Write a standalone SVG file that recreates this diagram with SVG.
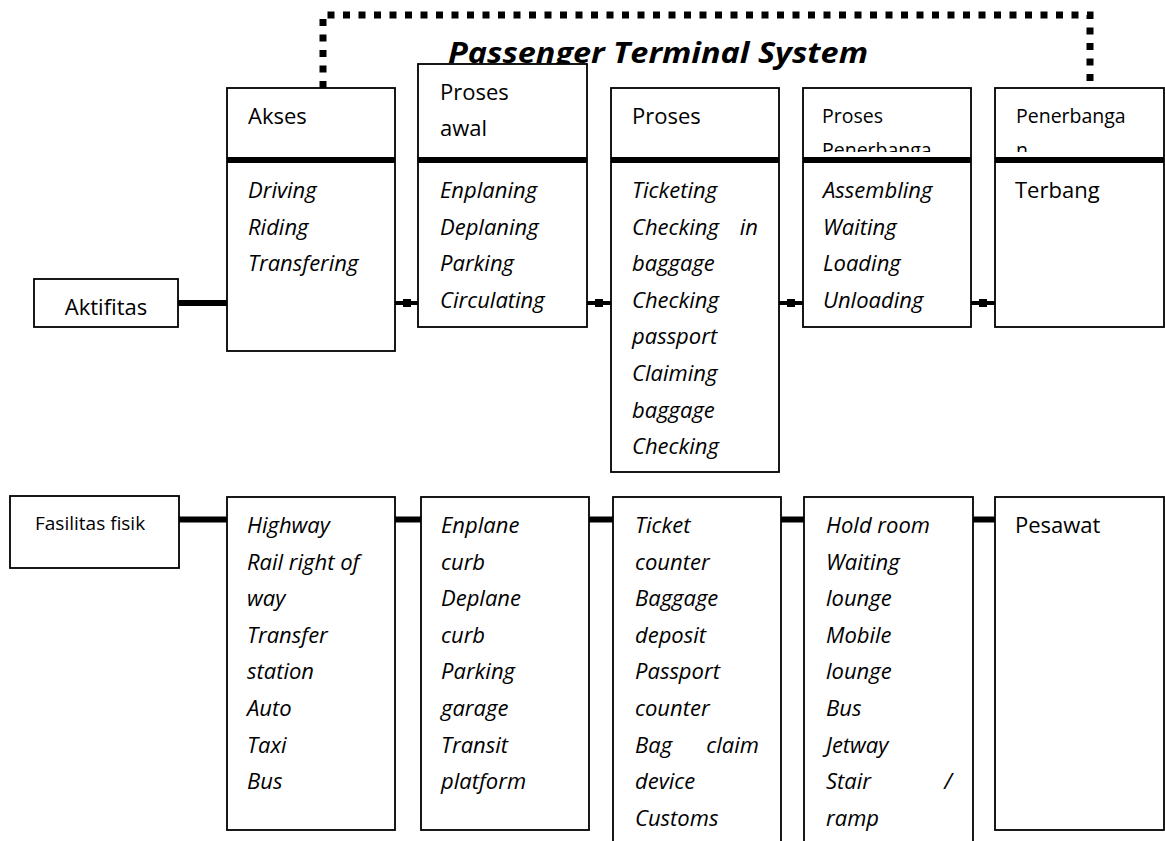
<svg xmlns="http://www.w3.org/2000/svg" width="1165" height="841" viewBox="0 0 1165 841">
<style>
.box{fill:#fff;stroke:#000;stroke-width:1.8}
.sep{stroke:#000;stroke-width:6}
.conn{stroke:#000;stroke-width:6;fill:none}
.connthin{stroke:#000;stroke-width:4;fill:none}
.nub{fill:#000}
.t{font-family:"Open Sans","Liberation Sans",sans-serif;font-size:22px;fill:#000}
.i{font-style:italic}
.s{font-size:19.5px}
.title{font-family:"Open Sans","Liberation Sans",sans-serif;font-weight:bold;font-style:italic;font-size:29px;fill:#000}
.dot{stroke:#000;stroke-width:7;stroke-dasharray:7 8.5;fill:none}
</style>
<defs>
<clipPath id="clipPP"><rect x="803" y="88" width="168" height="64"/></clipPath>
<clipPath id="clipPen"><rect x="995" y="88" width="169" height="64"/></clipPath>
</defs>
<rect width="1165" height="841" fill="#fff"/>

<g id="system-frame">
<path class="dot" d="M323,88 V15 H1090 V84"/>
<text class="title" x="448" y="63" textLength="420" lengthAdjust="spacingAndGlyphs">Passenger Terminal System</text>
</g>

<g id="connectors">
<line class="conn" x1="178" y1="303" x2="227" y2="303"/>
<line class="connthin" x1="395" y1="303" x2="418" y2="303"/>
<rect class="nub" x="403" y="299" width="8" height="8"/>
<line class="connthin" x1="587" y1="303" x2="611" y2="303"/>
<rect class="nub" x="595" y="299" width="8" height="8"/>
<line class="connthin" x1="779" y1="303" x2="803" y2="303"/>
<rect class="nub" x="787" y="299" width="8" height="8"/>
<line class="connthin" x1="971" y1="303" x2="995" y2="303"/>
<rect class="nub" x="979" y="299" width="8" height="8"/>
<line class="conn" x1="179" y1="519.5" x2="227" y2="519.5"/>
<line class="conn" x1="395" y1="519.5" x2="421" y2="519.5"/>
<line class="conn" x1="589" y1="519.5" x2="613" y2="519.5"/>
<line class="conn" x1="781" y1="519.5" x2="804" y2="519.5"/>
<line class="conn" x1="973" y1="519.5" x2="995" y2="519.5"/>
</g>

<g id="aktifitas">
<rect class="box" x="34" y="279" width="144" height="48"/>
<text class="t" x="106" y="315" text-anchor="middle">Aktifitas</text>
</g>

<g id="akses">
<rect class="box" x="227" y="88" width="168" height="263"/>
<line class="sep" x1="227" y1="160" x2="395" y2="160"/>
<text class="t" x="248" y="124">Akses</text>
<text class="t i" x="248" y="198">Driving</text>
<text class="t i" x="248" y="234.6">Riding</text>
<text class="t i" x="248" y="271.2">Transfering</text>
</g>

<g id="proses-awal">
<rect class="box" x="418" y="64" width="169" height="263"/>
<line class="sep" x1="418" y1="160" x2="587" y2="160"/>
<text class="t" x="440" y="100">Proses</text>
<text class="t" x="440" y="136">awal</text>
<text class="t i" x="440" y="198">Enplaning</text>
<text class="t i" x="440" y="234.6">Deplaning</text>
<text class="t i" x="440" y="271.2">Parking</text>
<text class="t i" x="440" y="307.8">Circulating</text>
</g>

<g id="proses">
<rect class="box" x="611" y="88" width="168" height="384"/>
<line class="sep" x1="611" y1="160" x2="779" y2="160"/>
<text class="t" x="632" y="124">Proses</text>
<text class="t i" x="632" y="198">Ticketing</text>
<text class="t i" x="632" y="234.6">Checking</text>
<text class="t i" x="758" y="234.6" text-anchor="end">in</text>
<text class="t i" x="632" y="271.2">baggage</text>
<text class="t i" x="632" y="307.8">Checking</text>
<text class="t i" x="632" y="344.4">passport</text>
<text class="t i" x="632" y="381">Claiming</text>
<text class="t i" x="632" y="417.6">baggage</text>
<text class="t i" x="632" y="454.2">Checking</text>
</g>

<g id="proses-penerbangan">
<rect class="box" x="803" y="88" width="168" height="239"/>
<line class="sep" x1="803" y1="160" x2="971" y2="160"/>
<g clip-path="url(#clipPP)">
<text class="t s" x="822" y="123">Proses</text>
<text class="t s" x="822" y="157">Penerbanga</text>
</g>
<text class="t i" x="823" y="198">Assembling</text>
<text class="t i" x="823" y="234.6">Waiting</text>
<text class="t i" x="823" y="271.2">Loading</text>
<text class="t i" x="823" y="307.8">Unloading</text>
</g>

<g id="penerbangan">
<rect class="box" x="995" y="88" width="169" height="239"/>
<line class="sep" x1="995" y1="160" x2="1164" y2="160"/>
<g clip-path="url(#clipPen)">
<text class="t s" x="1016" y="123">Penerbanga</text>
<text class="t s" x="1016" y="157">n</text>
</g>
<text class="t" x="1015" y="198">Terbang</text>
</g>

<g id="fasilitas-fisik">
<rect class="box" x="10" y="496" width="169" height="72"/>
<text class="t" style="font-size:19px" x="35" y="530">Fasilitas fisik</text>
</g>

<g id="fasilitas-akses">
<rect class="box" x="227" y="497" width="168" height="333"/>
<text class="t i" x="247" y="533">Highway</text>
<text class="t i" x="247" y="569.6">Rail right of</text>
<text class="t i" x="247" y="606.2">way</text>
<text class="t i" x="247" y="642.8">Transfer</text>
<text class="t i" x="247" y="679.4">station</text>
<text class="t i" x="247" y="716">Auto</text>
<text class="t i" x="247" y="752.6">Taxi</text>
<text class="t i" x="247" y="789.2">Bus</text>
</g>

<g id="fasilitas-proses-awal">
<rect class="box" x="421" y="497" width="168" height="333"/>
<text class="t i" x="441" y="533">Enplane</text>
<text class="t i" x="441" y="569.6">curb</text>
<text class="t i" x="441" y="606.2">Deplane</text>
<text class="t i" x="441" y="642.8">curb</text>
<text class="t i" x="441" y="679.4">Parking</text>
<text class="t i" x="441" y="716">garage</text>
<text class="t i" x="441" y="752.6">Transit</text>
<text class="t i" x="441" y="789.2">platform</text>
</g>

<g id="fasilitas-proses">
<rect class="box" x="613" y="497" width="168" height="350"/>
<text class="t i" x="635" y="533">Ticket</text>
<text class="t i" x="635" y="569.6">counter</text>
<text class="t i" x="635" y="606.2">Baggage</text>
<text class="t i" x="635" y="642.8">deposit</text>
<text class="t i" x="635" y="679.4">Passport</text>
<text class="t i" x="635" y="716">counter</text>
<text class="t i" x="635" y="752.6">Bag</text>
<text class="t i" x="759" y="752.6" text-anchor="end">claim</text>
<text class="t i" x="635" y="789.2">device</text>
<text class="t i" x="635" y="825.8">Customs</text>
</g>

<g id="fasilitas-proses-penerbangan">
<rect class="box" x="804" y="497" width="169" height="350"/>
<text class="t i" x="826" y="533">Hold room</text>
<text class="t i" x="826" y="569.6">Waiting</text>
<text class="t i" x="826" y="606.2">lounge</text>
<text class="t i" x="826" y="642.8">Mobile</text>
<text class="t i" x="826" y="679.4">lounge</text>
<text class="t i" x="826" y="716">Bus</text>
<text class="t i" x="826" y="752.6">Jetway</text>
<text class="t i" x="826" y="789.2">Stair</text>
<text class="t i" x="952" y="789.2" text-anchor="end">/</text>
<text class="t i" x="826" y="825.8">ramp</text>
</g>

<g id="fasilitas-penerbangan">
<rect class="box" x="995" y="497" width="169" height="333"/>
<text class="t" x="1015" y="533">Pesawat</text>
</g>
</svg>
